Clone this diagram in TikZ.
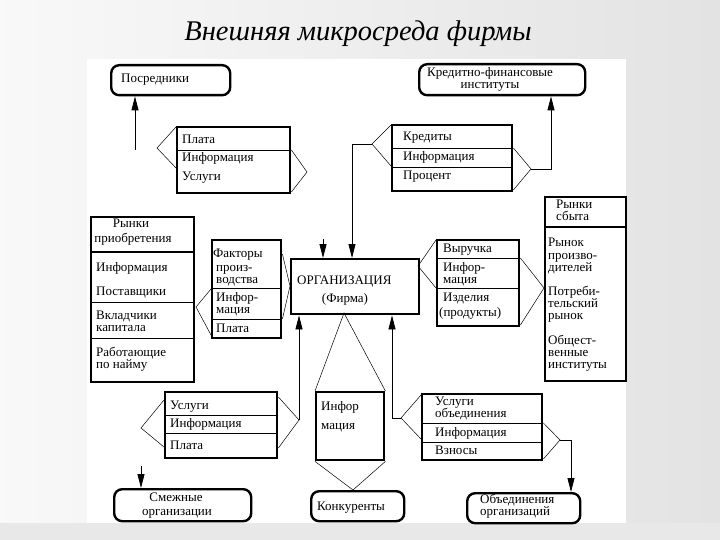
\documentclass[tikz,border=0pt]{standalone}
\usepackage{fontspec}
\setmainfont{Liberation Serif}
\usetikzlibrary{arrows.meta,calc}
\begin{document}
\begin{tikzpicture}[x=1pt,y=-1pt,
  box/.style={draw, line width=2.4pt, inner sep=0pt, anchor=north west},
  rbox/.style={draw, line width=2.4pt, rounded corners=8pt, inner sep=0pt, anchor=north west},
  txt/.style={inner sep=0pt, anchor=base west, font=\fontsize{13}{12}\selectfont},
  ctxt/.style={inner sep=0pt, anchor=base, font=\fontsize{13}{12}\selectfont},
  div/.style={line width=0.8pt},
  hdiv/.style={line width=2.4pt},
  wedge/.style={line width=0.5pt},
  conn/.style={line width=0.8pt},
  arr/.style={conn, -{Triangle[length=14pt,width=7pt]}},
]
\useasboundingbox (0,0) rectangle (720,540);
\fill[left color=gray!5, right color=gray!22] (0,0) rectangle (720,540);
\fill[gray!18] (0,523) rectangle (720,540);
\fill[white] (87,59) rectangle (626,523);

\node[font=\fontsize{28.5}{28.5}\selectfont\itshape, inner sep=0pt] (title) at (358,34) {Внешняя микросреда фирмы};

% boxes
\node[rbox, minimum width=119pt, minimum height=30pt] (posr) at (110,64) {};
\node[rbox, minimum width=166pt, minimum height=31pt] (kfi) at (418,63) {};
\node[box, minimum width=113pt, minimum height=66pt] (plata) at (176,126) {};
\node[box, minimum width=120pt, minimum height=66pt] (kred) at (391,124) {};
\node[box, minimum width=103pt, minimum height=165pt] (rpr) at (90,216) {};
\node[box, minimum width=69pt, minimum height=98pt] (fakt) at (211,239) {};
\node[box, minimum width=128pt, minimum height=55pt] (org) at (290,258) {};
\node[box, minimum width=82pt, minimum height=86pt] (vyr) at (436,239) {};
\node[box, minimum width=81pt, minimum height=184pt] (rsb) at (544,196) {};
\node[box, minimum width=112pt, minimum height=66pt] (usl) at (164,391) {};
\node[rbox, minimum width=137pt, minimum height=32pt] (smez) at (113,488) {};
\node[box, minimum width=68pt, minimum height=68pt] (inf) at (315,391) {};
\node[rbox, minimum width=93pt, minimum height=30pt] (konk) at (310,490) {};
\node[box, minimum width=120pt, minimum height=66pt] (uob) at (421,393) {};
\node[rbox, minimum width=113pt, minimum height=30pt] (obed) at (466,492) {};

% dividers
\draw[div] (plata.west |- 0,150) -- (plata.east |- 0,150);
\draw[div] (kred.west |- 0,148) -- (kred.east |- 0,148);
\draw[div] (kred.west |- 0,167) -- (kred.east |- 0,167);
\draw[hdiv] (rpr.west |- 0,252) -- (rpr.east |- 0,252);
\draw[div] (rpr.west |- 0,302) -- (rpr.east |- 0,302);
\draw[div] (rpr.west |- 0,338) -- (rpr.east |- 0,338);
\draw[div] (fakt.west |- 0,288) -- (fakt.east |- 0,288);
\draw[div] (fakt.west |- 0,319) -- (fakt.east |- 0,319);
\draw[div] (vyr.west |- 0,258) -- (vyr.east |- 0,258);
\draw[div] (vyr.west |- 0,288) -- (vyr.east |- 0,288);
\draw[hdiv] (rsb.west |- 0,227) -- (rsb.east |- 0,227);
\draw[div] (usl.west |- 0,415) -- (usl.east |- 0,415);
\draw[div] (usl.west |- 0,433) -- (usl.east |- 0,433);
\draw[div] (uob.west |- 0,423) -- (uob.east |- 0,423);
\draw[div] (uob.west |- 0,442) -- (uob.east |- 0,442);

% texts
\node[txt] (t1) at (121,83) {Посредники};
\node[txt] (t2) at (427,77) {Кредитно-финансовые};
\node[ctxt] (t3) at (490,89) {институты};
\node[txt] (t4) at (182,144) {Плата};
\node[txt] (t5) at (182,162) {Информация};
\node[txt] (t6) at (182,181) {Услуги};
\node[txt] (t7) at (403,141) {Кредиты};
\node[txt] (t8) at (403,161) {Информация};
\node[txt] (t9) at (403,180) {Процент};
\node[ctxt] (t10) at (131,227) {Рынки};
\node[ctxt] (t11) at (133,242) {приобретения};
\node[txt] (t12) at (96,271) {Информация};
\node[txt] (t13) at (96,295) {Поставщики};
\node[txt] (t14) at (96,319) {Вкладчики};
\node[txt] (t15) at (96,331) {капитала};
\node[txt] (t16) at (96,356) {Работающие};
\node[txt] (t17) at (96,368) {по найму};
\node[txt] (t18) at (213,257) {Факторы};
\node[txt] (t19) at (216,271) {произ-};
\node[txt] (t20) at (216,283) {водства};
\node[txt] (t21) at (216,301) {Инфор-};
\node[txt] (t22) at (216,313) {мация};
\node[txt] (t23) at (216,332) {Плата};
\node[txt] (t24) at (297,284) {ОРГАНИЗАЦИЯ};
\node[ctxt] (t25) at (345,302) {(Фирма)};
\node[txt] (t26) at (443,252) {Выручка};
\node[txt] (t27) at (443,271) {Инфор-};
\node[txt] (t28) at (443,283) {мация};
\node[txt] (t29) at (443,301) {Изделия};
\node[txt] (t30) at (439,316) {(продукты)};
\node[txt] (t31) at (556,209) {Рынки};
\node[txt] (t32) at (556,221) {сбыта};
\node[txt] (t33) at (548,247) {Рынок};
\node[txt] (t34) at (548,259) {произво-};
\node[txt] (t35) at (548,271) {дителей};
\node[txt] (t36) at (548,295) {Потреби-};
\node[txt] (t37) at (548,307) {тельский};
\node[txt] (t38) at (548,319) {рынок};
\node[txt] (t39) at (548,344) {Общест-};
\node[txt] (t40) at (548,356) {венные};
\node[txt] (t41) at (548,368) {институты};
\node[txt] (t42) at (170,409) {Услуги};
\node[txt] (t43) at (170,427) {Информация};
\node[txt] (t44) at (170,449) {Плата};
\node[ctxt] (t45) at (176,501) {Смежные};
\node[ctxt] (t46) at (177,515) {организации};
\node[txt] (t47) at (321,410) {Инфор};
\node[txt] (t48) at (321,429) {мация};
\node[txt] (t49) at (317,510) {Конкуренты};
\node[txt] (t50) at (435,405) {Услуги};
\node[txt] (t51) at (435,417) {объединения};
\node[txt] (t52) at (435,436) {Информация};
\node[txt] (t53) at (435,454) {Взносы};
\node[txt] (t54) at (480,503) {Объединения};
\node[txt] (t55) at (480,515) {организаций};

% wedge apexes and free ends
\coordinate (a1) at (157,148);
\coordinate (a2) at (307,172);
\coordinate (a3) at (372,144);
\coordinate (a4) at (531,169);
\coordinate (a7) at (196,307);
\coordinate (a8) at (290,286);
\coordinate (a9) at (418,266);
\coordinate (a10) at (544,288);
\coordinate (a11) at (141,428);
\coordinate (a12) at (299,420);
\coordinate (a14) at (344,313);
\coordinate (a15) at (353,490);
\coordinate (a16) at (401,418);
\coordinate (a17) at (560,440);
\coordinate (p0) at (135,150);
\coordinate (s1) at (323,239);
\coordinate (s2) at (141,466);

% wedges
\draw[wedge] (plata.west |- 0,127) -- (a1) -- (plata.west |- 0,168);
\draw[wedge] (plata.east |- 0,150) -- (a2) -- (plata.east |- 0,192);
\draw[wedge] (kred.west |- 0,125) -- (a3) -- (kred.west |- 0,166);
\draw[wedge] (kred.east |- 0,148) -- (a4) -- (kred.east |- 0,190);
\draw[wedge] (fakt.west |- 0,289) -- (a7) -- (fakt.west |- 0,335);
\draw[wedge] (fakt.east |- 0,254) -- (a8) -- (fakt.east |- 0,319);
\draw[wedge] (vyr.west |- 0,240) -- (a9) -- (vyr.west |- 0,288);
\draw[wedge] (vyr.east |- 0,258) -- (a10) -- (vyr.east |- 0,325);
\draw[wedge] (usl.west |- 0,400) -- (a11) -- (usl.west |- 0,447);
\draw[wedge] (usl.east |- 0,397) -- (a12) -- (usl.east |- 0,448);
\draw[wedge] (inf.north west) -- (a14) -- (inf.north east);
\draw[wedge] (inf.south west) -- (a15) -- (inf.south east);
\draw[wedge] (uob.west |- 0,395) -- (a16) -- (uob.west |- 0,439);
\draw[wedge] (uob.east |- 0,423) -- (a17) -- (uob.east |- 0,459);

% connectors
\draw[arr] (p0) -- (posr.south -| p0);
\draw[arr] (a3) -- (a3 -| 352,0) -- (org.north -| 352,0);
\draw[arr] (a4) -- (a4 -| 551,0) -- (kfi.south -| 551,0);
\draw[arr] (s1) -- (org.north -| s1);
\draw[arr] (a12) -- (org.south -| a12);
\draw[arr] (a16) -- (a16 -| 392,0) -- (org.south -| 392,0);
\draw[arr] (a17) -- (a17 -| 571,0) -- (obed.north -| 571,0);
\draw[arr] (s2) -- (smez.north -| s2);
\end{tikzpicture}
\end{document}
